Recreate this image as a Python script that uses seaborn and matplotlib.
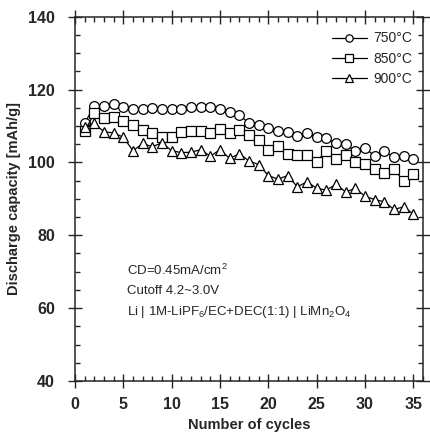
import matplotlib
matplotlib.use("Agg")
import matplotlib.pyplot as plt
import seaborn as sns
import pandas as pd
import numpy as np
from matplotlib.ticker import MultipleLocator

cycles = list(range(1, 36))
cap_750 = [110.7, 115.6, 115.6, 115.9, 115.3, 114.6, 114.8, 115.0, 114.8, 114.6,
           114.8, 115.3, 115.3, 115.1, 114.6, 113.9, 113.0, 110.8, 110.4, 109.5,
           108.7, 108.4, 107.2, 108.0, 106.9, 106.6, 105.2, 105.0, 103.1, 104.0,
           101.7, 103.1, 101.4, 101.7, 101.0]
cap_850 = [108.6, 113.5, 112.1, 112.4, 111.4, 110.3, 108.9, 108.0, 107.0, 106.9,
           108.3, 108.7, 108.7, 108.1, 109.2, 108.0, 108.8, 107.5, 106.1, 103.4,
           104.6, 102.4, 101.9, 102.0, 100.2, 103.2, 100.9, 102.0, 100.2, 99.7,
           98.3, 97.0, 98.1, 94.9, 96.8]
cap_900 = [109.8, 110.7, 108.4, 108.1, 106.9, 103.2, 105.2, 104.3, 105.4, 103.2,
           102.7, 102.8, 103.5, 101.7, 103.5, 101.1, 102.4, 100.4, 99.4, 96.4,
           95.4, 96.4, 93.3, 94.7, 92.9, 92.4, 94.0, 91.9, 92.9, 90.7,
           89.8, 89.2, 87.1, 87.8, 85.8]
labels = ["750\u00b0C", "850\u00b0C", "900\u00b0C"]
markers = ["o", "s", "^"]

sns.set_style("ticks")
plt.rcParams["font.family"] = ["Liberation Sans", "DejaVu Sans"]
plt.rcParams["mathtext.fontset"] = "custom"
plt.rcParams["mathtext.rm"] = "Liberation Sans"
plt.rcParams["mathtext.it"] = "Liberation Sans:italic"
plt.rcParams["mathtext.bf"] = "Liberation Sans:bold"
plt.rcParams["mathtext.default"] = "regular"

fig = plt.figure(figsize=(4.30, 4.43), dpi=100)
ax = fig.add_axes([75/430, 1-381/443, (423-75)/430, (381-16.7)/443])

for vals, lab, mk in zip([cap_750, cap_850, cap_900], labels, markers):
    df = pd.DataFrame({"cycle": cycles, "cap": vals})
    sns.lineplot(data=df, x="cycle", y="cap", ax=ax, color="black", lw=0.9,
                 marker=mk, markersize=7 if mk != "^" else 7.5,
                 markerfacecolor="white", markeredgecolor="black",
                 markeredgewidth=0.9, label=lab)

ax.set_xlim(0, 36)
ax.set_ylim(40, 140)
ax.xaxis.set_major_locator(MultipleLocator(5))
ax.xaxis.set_minor_locator(MultipleLocator(1))
ax.yaxis.set_major_locator(MultipleLocator(20))
ax.yaxis.set_minor_locator(MultipleLocator(5))
ax.tick_params(which="both", top=True, right=True, width=1.0)
ax.tick_params(which="major", direction="inout", length=10, labelsize=11.5)
ax.tick_params(which="minor", direction="in", length=3.5)
ax.tick_params(axis="x", which="major", pad=6.5)
ax.tick_params(axis="y", which="major", pad=9.5)
for t in ax.get_xticklabels() + ax.get_yticklabels():
    t.set_fontweight("bold")
for s in ax.spines.values():
    s.set_linewidth(1.1)

ax.set_xlabel("Number of cycles", fontsize=10.5, fontweight="bold")
ax.set_ylabel("Discharge capacity [mAh/g]", fontsize=10.5, fontweight="bold")
ax.xaxis.label.set_va("center")
ax.yaxis.label.set_va("center")
ax.yaxis.label.set_ha("center")
ax.xaxis.set_label_coords(0.5, -0.121)
ax.yaxis.set_label_coords(-0.175, 0.5)

leg = ax.legend(loc="upper right", bbox_to_anchor=(1.0, 0.988), frameon=False,
                fontsize=10, handlelength=2.5, labelspacing=0.45,
                handletextpad=0.5, borderaxespad=0.35, markerscale=0.75)

ax.text(5.4, 70.4, "CD=0.45mA/cm$^2$", fontsize=9.5, va="center")
ax.text(5.4, 64.6, "Cutoff 4.2~3.0V", fontsize=9.5, va="center")
ax.text(5.4, 58.9, "Li | 1M-LiPF$_6$/EC+DEC(1:1) | LiMn$_2$O$_4$", fontsize=9.5, va="center")

fig.savefig("out.png", dpi=100)
